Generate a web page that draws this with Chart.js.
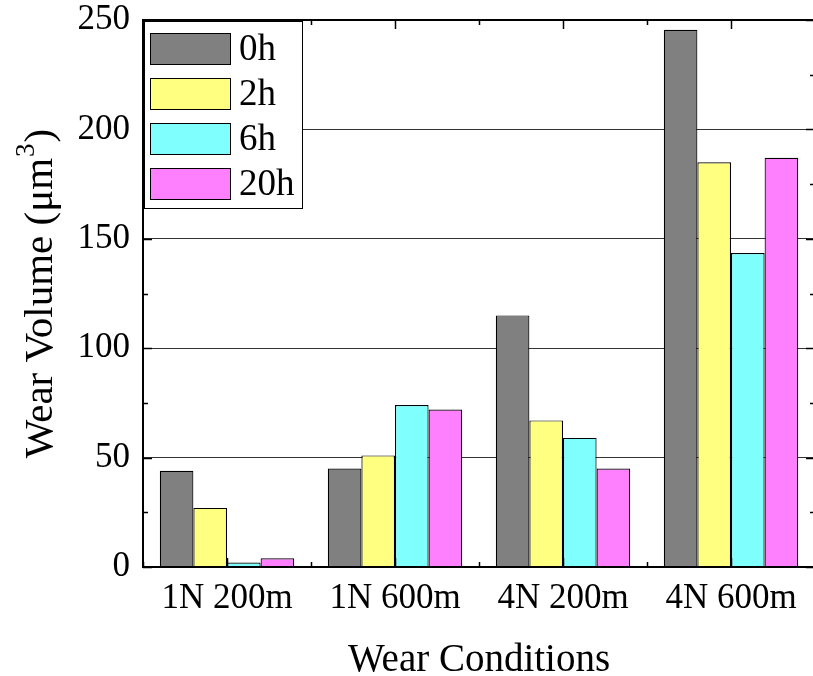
<!DOCTYPE html>
<html>
<head>
<meta charset="utf-8">
<script src="https://cdn.jsdelivr.net/npm/chart.js"></script>
<style>
  html, body { margin: 0; padding: 0; background: #fff; overflow: hidden; }
  #wrap { width: 820px; height: 676px; }
</style>
</head>
<body>
<div id="wrap"><canvas id="chart"></canvas></div>
<script>
const conditions = ['1N 200m', '1N 600m', '4N 200m', '4N 600m'];
const seriesNames = ['0h', '2h', '6h', '20h'];
const vol0h = [44, 45, 115, 245.5];
const vol2h = [27, 51, 67, 185];
const vol6h = [2, 74, 59, 143.5];
const vol20h = [4, 72, 45, 187];
const yTicks = [0, 50, 100, 150, 200, 250];

const colors = ['#808080', '#ffff80', '#80ffff', '#ff80ff'];
const SERIF = '"Liberation Serif", "Times New Roman", serif';

// frame, inward ticks, y title with superscript, legend box
const framePlugin = {
    id: 'frame',
    afterDraw(chart) {
        const ctx = chart.ctx;
        const a = chart.chartArea;
        const x = chart.scales.x, y = chart.scales.y;
        ctx.save();
        ctx.strokeStyle = '#000';
        ctx.lineWidth = 2;
        ctx.strokeRect(a.left, a.top, a.right - a.left, a.bottom - a.top);

        ctx.lineWidth = 1.5;
        ctx.beginPath();
        for (let v = 0; v <= 250; v += 25) {
            const py = Math.round(y.getPixelForValue(v)) + 0.5;
            const len = (v % 50 === 0) ? 9 : 5;
            ctx.moveTo(a.left, py); ctx.lineTo(a.left + len, py);
            ctx.moveTo(a.right, py); ctx.lineTo(a.right - len, py);
        }
        const n = conditions.length;
        const w = (a.right - a.left) / n;
        for (let i = 0; i <= n; i++) {
            const bx = Math.round(a.left + i * w) + 0.5;
            ctx.moveTo(bx, a.bottom); ctx.lineTo(bx, a.bottom - 5);
            ctx.moveTo(bx, a.top); ctx.lineTo(bx, a.top + 5);
        }
        for (let i = 0; i < n; i++) {
            const cx = Math.round(x.getPixelForValue(i)) + 0.5;
            ctx.moveTo(cx, a.bottom); ctx.lineTo(cx, a.bottom - 9);
            ctx.moveTo(cx, a.top); ctx.lineTo(cx, a.top + 9);
        }
        ctx.stroke();

        // y title: Wear Volume (μm^3)
        const big = '41px ' + SERIF, small = '27px ' + SERIF;
        const main = 'Wear Volume (μm', sup = '3', close = ')';
        ctx.font = big;
        const w1 = ctx.measureText(main).width, w3 = ctx.measureText(close).width;
        ctx.font = small;
        const w2 = ctx.measureText(sup).width + 2;
        const total = w1 + w2 + w3;
        ctx.save();
        ctx.translate(52, (a.top + a.bottom) / 2);
        ctx.rotate(-Math.PI / 2);
        ctx.fillStyle = '#000';
        ctx.textBaseline = 'alphabetic';
        ctx.textAlign = 'left';
        let tx = -total / 2;
        ctx.font = big; ctx.fillText(main, tx, 0); tx += w1;
        ctx.font = small; ctx.fillText(sup, tx + 1, -18); tx += w2;
        ctx.font = big; ctx.fillText(close, tx, 0);
        ctx.restore();

        // legend
        const lx = a.left + 1, ly = a.top + 1, lw = 158, lh = 187;
        ctx.fillStyle = '#fff';
        ctx.fillRect(lx, ly, lw, lh);
        ctx.lineWidth = 1;
        ctx.strokeStyle = '#000';
        ctx.strokeRect(lx + 0.5, ly + 0.5, lw, lh);
        ctx.font = '37px ' + SERIF;
        ctx.textBaseline = 'middle';
        ctx.textAlign = 'left';
        chart.data.datasets.forEach((ds, i) => {
            const sy = ly + 12 + i * 45;
            ctx.fillStyle = ds.backgroundColor;
            ctx.fillRect(lx + 6, sy, 80, 31);
            ctx.strokeRect(lx + 6.5, sy + 0.5, 80, 31);
            ctx.fillStyle = '#000';
            ctx.fillText(ds.label, lx + 95, sy + 17);
        });
        ctx.restore();
    }
};

const series = [vol0h, vol2h, vol6h, vol20h];

new Chart(document.getElementById('chart'), {
    type: 'bar',
    data: {
        labels: conditions,
        datasets: series.map((vals, i) => ({
            label: seriesNames[i],
            data: vals,
            backgroundColor: colors[i],
            borderColor: '#000',
            borderWidth: 1.2,
            categoryPercentage: 0.8,
            barPercentage: 1.0
        }))
    },
    options: {
        responsive: true,
        maintainAspectRatio: false,
        animation: false,
        layout: { padding: { left: 0, right: 5, top: 20, bottom: 0 } },
        plugins: { legend: { display: false }, tooltip: { enabled: false } },
        scales: {
            x: {
                grid: { display: false, drawTicks: false },
                border: { display: false },
                ticks: { color: '#000', font: { family: SERIF, size: 35 }, padding: 11, maxRotation: 0 },
                title: { display: true, text: 'Wear Conditions', color: '#000',
                         font: { family: SERIF, size: 39 }, padding: { top: -8, bottom: -8 } },
                afterFit(scale) { scale.height = 109; scale.paddingLeft = 0; scale.paddingRight = 0; }
            },
            y: {
                min: 0, max: 250,
                afterBuildTicks(scale) { scale.ticks = yTicks.map(v => ({ value: v })); },
                grid: {
                    drawTicks: false,
                    color: ctx => (ctx.tick && (ctx.tick.value === 0 || ctx.tick.value === 250)) ? 'rgba(0,0,0,0)' : '#333',
                    lineWidth: 1
                },
                border: { display: false },
                ticks: { color: '#000', font: { family: SERIF, size: 35 }, padding: 13 },
                afterFit(scale) { scale.width = 143; scale.paddingTop = 0; scale.paddingBottom = 0; }
            }
        }
    },
    plugins: [framePlugin]
});
</script>
</body>
</html>
